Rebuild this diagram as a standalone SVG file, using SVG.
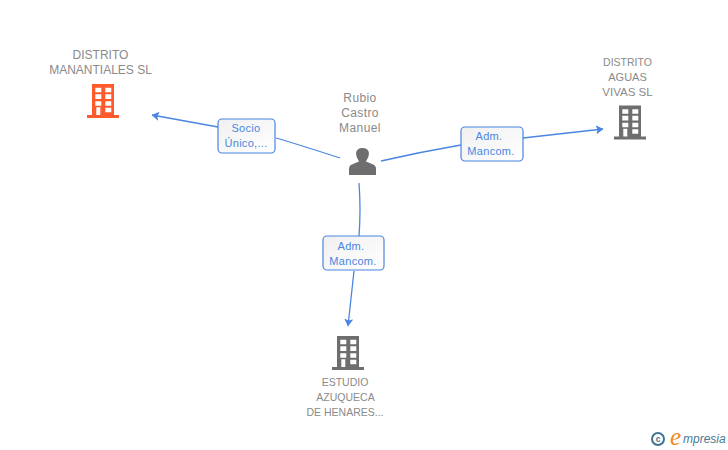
<svg xmlns="http://www.w3.org/2000/svg" width="728" height="450" viewBox="0 0 728 450">
<style>
.t{font-family:"Liberation Sans",Arial,sans-serif;font-size:12px;fill:#8a8a8a;text-anchor:middle}
.s{letter-spacing:.4px}
.m{font-size:10.500px}
.l{font-family:"Liberation Sans",Arial,sans-serif;font-size:11px;letter-spacing:.3px;fill:#4a86e0;text-anchor:middle}
.c{fill:none;stroke:#4a86e0;stroke-width:1.3}
.b{fill:url(#g);stroke:#4a86e0;stroke-width:1.2}
</style>
<defs>
<marker id="a" markerWidth="10" markerHeight="10" refX="7" refY="4.500" orient="auto" markerUnits="userSpaceOnUse"><path d="M0 0L7.500 4.500L0 9L1.500 4.500Z" fill="#4a86e0"/></marker>
<linearGradient id="g" x1="0" y1="0" x2="1" y2="1"><stop offset="0" stop-color="#f0f0f0"/><stop offset="1" stop-color="#fff"/></linearGradient>
<g id="bld">
<path fill-rule="evenodd" d="M-11-17H11V14H16V17H-16V14H-11ZM-7.700-13.300V-8.700H-1.700V-13.300ZM2.300-13.300V-8.700H8.300V-13.300ZM-7.700-6.700V-2H-1.700V-6.700ZM2.300-6.700V-2H8.300V-6.700ZM-7.700 .3V4.700H-1.700V.3ZM2.300 .3V4.700H8.300V.3ZM-6.700 6.300V14H-2.700V6.300ZM2.300 6.700V11.300H8.300V6.700Z"/>
</g>
</defs>
<rect width="728" height="450" fill="#fff"/>
<g id="connectors">
<path class="c" d="M340 158Q300 145 276 138"/>
<path class="c" d="M218 127L152 115" marker-end="url(#a)"/>
<path class="c" d="M381 161Q420 152 461 145"/>
<path class="c" d="M523 138L603 129" marker-end="url(#a)"/>
<path class="c" d="M359 183Q361 210 359 236"/>
<path class="c" d="M354 271L348 326" marker-end="url(#a)"/>
</g>
<g id="node-manantiales">
<text class="t" x="100.500" y="59">DISTRITO</text>
<text class="t" x="100.500" y="74">MANANTIALES SL</text>
<use href="#bld" x="103" y="101" fill="#ff5a2c"/>
</g>
<g id="node-aguas">
<text class="t" x="627.500" y="66" style="font-size:10.500px">DISTRITO</text>
<text class="t" x="627.500" y="81" style="font-size:11px">AGUAS</text>
<text class="t" x="627.500" y="96" style="font-size:11.500px">VIVAS SL</text>
<use href="#bld" x="630" y="122.500" fill="#6e6e6e"/>
</g>
<g id="node-estudio">
<text class="t m" x="345" y="386">ESTUDIO</text>
<text class="t m" x="345.500" y="401">AZUQUECA</text>
<text class="t m" x="345" y="416">DE HENARES...</text>
<use href="#bld" x="348" y="353" fill="#6e6e6e"/>
</g>
<g id="node-rubio">
<text class="t s" x="360" y="102">Rubio</text>
<text class="t s" x="360" y="117">Castro</text>
<text class="t s" x="360" y="132">Manuel</text>
<path fill="#6e6e6e" d="M349 175V169Q349 165 353 164L359 161.500Q356 157 356 153.500Q356.500 148 362.500 148Q368.500 148 369 153.500Q369 157 366 161.500L372 164Q376 165 376 169V175Z"/>
</g>
<g id="label-socio">
<rect class="b" x="218" y="119" width="57" height="34" rx="4"/>
<text class="l" x="246" y="132">Socio</text>
<text class="l" x="246" y="147">Único,...</text>
</g>
<g id="label-adm1">
<rect class="b" x="461" y="127" width="62" height="34" rx="4"/>
<text class="l" x="489" y="140">Adm.</text>
<text class="l" x="491" y="155">Mancom.</text>
</g>
<g id="label-adm2">
<rect class="b" x="323" y="236" width="61" height="34" rx="4"/>
<text class="l" x="351" y="250">Adm.</text>
<text class="l" x="353" y="265">Mancom.</text>
</g>
<g id="logo">
<circle cx="658" cy="439" r="6" fill="none" stroke="#3f7390" stroke-width="2"/>
<text x="658" y="442" font-family="Liberation Sans,sans-serif" font-size="8.500" font-weight="bold" fill="#3f7390" text-anchor="middle">c</text>
<text x="670" y="445" font-family="Liberation Serif,serif" font-style="italic" font-size="25" fill="#f08a24">e</text>
<text x="683" y="443" font-family="Liberation Sans,sans-serif" font-style="italic" font-size="12" fill="#4a7a94">mpresia</text>
</g>
</svg>
